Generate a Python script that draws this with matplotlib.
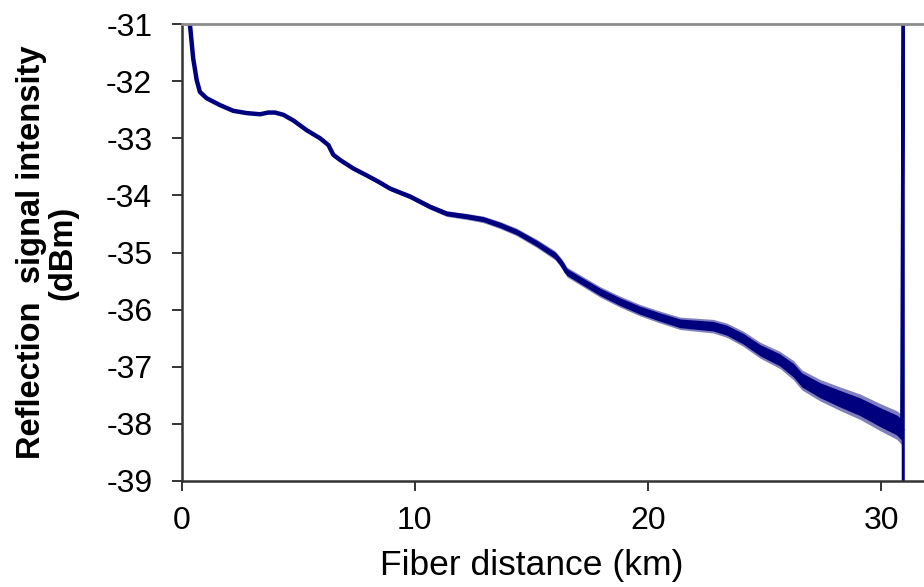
import matplotlib
matplotlib.use("Agg")
import matplotlib.pyplot as plt
import numpy as np

plt.rcParams['font.family'] = ['Liberation Sans', 'DejaVu Sans']
plt.rcParams['axes.unicode_minus'] = False

# OTDR trace (km, dBm)
distance_km = [0.30, 0.36, 0.50, 0.58, 0.65, 0.79, 1.08, 1.65, 2.22, 2.80, 3.37,
               3.72, 4.01, 4.37, 4.80, 5.37, 5.94, 6.30, 6.51, 6.80, 7.37, 7.94,
               8.44, 8.94, 9.80, 10.66, 11.37, 12.23, 12.94, 13.66, 14.37, 15.23,
               16.02, 16.30, 16.52, 17.09, 17.95, 18.80, 19.66, 20.52, 21.38,
               22.23, 22.80, 23.38, 24.09, 24.81, 25.66, 26.24, 26.60, 27.38,
               28.24, 29.10, 29.95, 30.67, 30.88]
intensity_dbm = [-30.0, -31.0, -31.6, -31.8, -31.98, -32.19, -32.30, -32.42, -32.52,
                 -32.56, -32.58, -32.55, -32.55, -32.59, -32.69, -32.86, -33.00,
                 -33.12, -33.29, -33.38, -33.53, -33.65, -33.76, -33.88, -34.02,
                 -34.20, -34.32, -34.37, -34.42, -34.52, -34.64, -34.84, -35.05,
                 -35.19, -35.34, -35.48, -35.69, -35.86, -36.01, -36.13, -36.24,
                 -36.27, -36.29, -36.36, -36.51, -36.71, -36.88, -37.06, -37.23,
                 -37.41, -37.56, -37.70, -37.88, -38.02, -38.10]
# half width of the noise band around the trace (dB)
noise_db = [0.0, 0.0, 0.0, 0.0, 0.0, 0.005, 0.008, 0.01, 0.01, 0.01, 0.01,
            0.01, 0.01, 0.01, 0.01, 0.012, 0.014, 0.016, 0.018, 0.02, 0.022, 0.025,
            0.027, 0.03, 0.033, 0.036, 0.04, 0.043, 0.046, 0.05, 0.053, 0.058,
            0.063, 0.066, 0.068, 0.07, 0.074, 0.077, 0.08, 0.083, 0.087,
            0.092, 0.095, 0.1, 0.106, 0.112, 0.12, 0.135, 0.14, 0.15,
            0.165, 0.178, 0.19, 0.2, 0.21]

# fiber end reflection
end_km = [30.88, 30.95, 30.95]
end_dbm = [-38.10, -30.0, -40.0]

xticks = [0, 10, 20, 30]
yticks = [-31, -32, -33, -34, -35, -36, -37, -38, -39]

fig = plt.figure(figsize=(9.24, 5.87), dpi=100)
ax = fig.add_axes([181.5/924, 1-481/587, 1-181.5/924, (481-24)/587])

x = np.array(distance_km)
y = np.array(intensity_dbm)
nz = 1.25*np.array(noise_db)
navy = '#00007f'
ax.fill_between(x, y-nz, y+nz, color=navy, alpha=0.5, linewidth=0)
ax.fill_between(x, y-0.7*nz, y+0.7*nz, color=navy, linewidth=0)
ax.plot(x, y, color=navy, lw=3.2, solid_joinstyle='round')
ax.plot(end_km, end_dbm, color=navy, lw=2.2)

ax.set_xlim(0, 31.84)
ax.set_ylim(-39, -31)
ax.set_xticks(xticks)
ax.set_yticks(yticks)

ax.spines['right'].set_visible(False)
ax.spines['top'].set_color('#8c8c8c')
ax.spines['top'].set_linewidth(2)
for s in ['left', 'bottom']:
    ax.spines[s].set_color('#333333')
    ax.spines[s].set_linewidth(1.8)
ax.tick_params(direction='out', length=7, width=1.4, color='#333333',
               labelsize=23)
ax.tick_params(axis='y', pad=14)
ax.tick_params(axis='x', pad=11)

ax.set_xlabel('Fiber distance (km)', fontsize=25.5)
ax.xaxis.set_label_coords(0.472, -0.148)
ax.set_ylabel('Reflection  signal intensity\n(dBm)', fontsize=23.5,
              fontweight='bold', labelpad=20, linespacing=1.0)

fig.savefig('out.png', dpi=100)
